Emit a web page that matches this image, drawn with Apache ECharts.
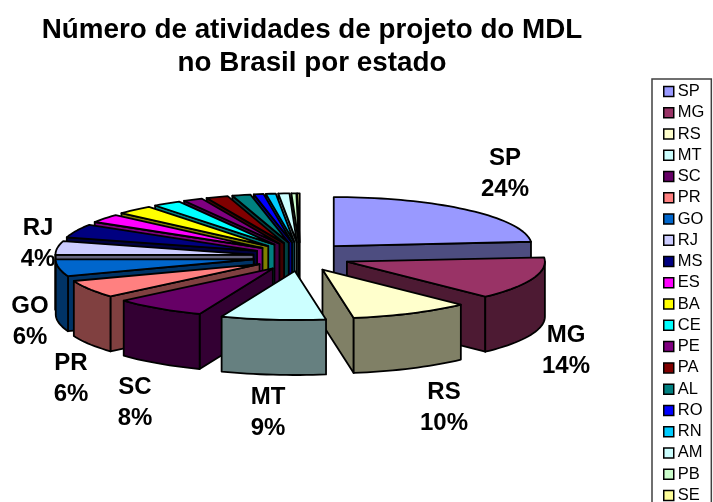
<!DOCTYPE html>
<html><head><meta charset="utf-8">
<style>html,body{margin:0;padding:0;background:#fff;overflow:hidden}#c{width:713px;height:502px}</style>
<script src="https://cdn.jsdelivr.net/npm/echarts@6/dist/echarts.min.js"></script></head>
<body><div id="c"></div>
<script>
const states = ['SP','MG','RS','MT','SC','PR','GO','RJ','MS','ES','BA','CE','PE','PA','AL','RO','RN','AM','PB','SE'];
const shares = [23.6,14.1,9.8,8.55,7.55,5.8,5.6,4.49,4.45,2.8,3.0,2.3,1.6,1.8,1.5,0.8,0.8,0.9,0.4,0.2];
const colors = ['#9999FF','#993366','#FFFFCC','#CCFFFF','#660066','#FF8080','#0066CC','#CCCCFF','#000080','#FF00FF','#FFFF00','#00FFFF','#800080','#800000','#008080','#0000FF','#00CCFF','#CCFFFF','#CCFFCC','#FFFF99'];
const titleLines = ['Número de atividades de projeto do MDL','no Brasil por estado'];

// layout only
const PIE = {cx:300, cy:256.7, exRight:50, exLeft:47, ey:14.4, rx:198, ry:49, depth:55};
const labelAt = {SP:[505,174],MG:[566,351],RS:[444,408],MT:[268,413],SC:[135,403],PR:[71,379],GO:[30,322],RJ:[38,244]};
const FONT = '"Liberation Sans", Arial, sans-serif';

const total = shares.reduce((a,b)=>a+b,0);
let run = 0;
const slices = states.map((name,i)=>{
  const s = {name, color:colors[i], value:shares[i], start:run/total*360, end:(run+shares[i])/total*360};
  run += shares[i]; s.mid=(s.start+s.end)/2; return s;
});
const rad = d=>d*Math.PI/180;
function dark(hex){const n=parseInt(hex.slice(1),16);const c=[n>>16,(n>>8)&255,n&255].map(v=>Math.round(v*0.5));return `rgb(${c.join(',')})`;}
const lineStyle = c=>({fill:c,stroke:'#000',lineWidth:1.8,lineJoin:'round'});
function poly(points,c){return {type:'polygon',shape:{points},style:lineStyle(c)};}

function renderSlice(params,api){
  const a0=api.value(0), a1=api.value(1);
  const s=slices[api.value(2)];
  const m=rad((a0+a1)/2), sm=Math.sin(m);
  const ax=PIE.cx+(sm>0?PIE.exRight:PIE.exLeft)*sm, ay=PIE.cy-PIE.ey*Math.cos(m);
  const P=t=>[ax+PIE.rx*Math.sin(rad(t)), ay-PIE.ry*Math.cos(rad(t))];
  const D=p=>[p[0],p[1]+PIE.depth];
  const rim=[]; const n=Math.max(2,Math.ceil((a1-a0)/2));
  for(let i=0;i<=n;i++) rim.push(a0+(a1-a0)*i/n);
  const wall=dark(s.color), kids=[], apex=[ax,ay];
  if(Math.sin(rad(a0))<0) kids.push(poly([apex,P(a0),D(P(a0)),D(apex)],wall));
  if(Math.sin(rad(a1))>0) kids.push(poly([apex,P(a1),D(P(a1)),D(apex)],wall));
  const lo=Math.max(a0,90), hi=Math.min(a1,270);
  if(hi>lo){
    const pts=[]; const k=Math.max(2,Math.ceil((hi-lo)/2));
    for(let i=0;i<=k;i++) pts.push(P(lo+(hi-lo)*i/k));
    for(let i=k;i>=0;i--) pts.push(D(P(lo+(hi-lo)*i/k)));
    kids.push(poly(pts,wall));
  }
  kids.push(poly([apex].concat(rim.map(P)),s.color));
  return {type:'group',children:kids};
}

const drawOrder = slices.map((s,i)=>i).sort((a,b)=>Math.cos(rad(slices[b].mid))-Math.cos(rad(slices[a].mid)));
const series = drawOrder.map(i=>({
  type:'custom', name:slices[i].name, coordinateSystem:'none', silent:true, animation:false,
  itemStyle:{color:slices[i].color,borderColor:'#000',borderWidth:1.5},
  renderItem:renderSlice, data:[[slices[i].start,slices[i].end,i]]
}));
series.push({
  type:'custom', name:'rotulos', coordinateSystem:'none', silent:true, animation:false, z:5,
  data:slices.map((s,i)=>[i]).filter(r=>labelAt[slices[r[0]].name]),
  renderItem(params,api){
    const s=slices[api.value(0)], p=labelAt[s.name];
    return {type:'text',x:p[0],y:p[1],style:{text:s.name+'\n'+Math.round(s.value/total*100)+'%',
      font:'bold 24px '+FONT,fill:'#000',align:'center',verticalAlign:'middle',lineHeight:31}};
  }
});

const chart = echarts.init(document.getElementById('c'),null,{renderer:'canvas'});
chart.setOption({
  animation:false, backgroundColor:'#fff',
  title:{text:titleLines.join('\n'),left:307,top:8.5,textAlign:'center',
    textStyle:{fontFamily:FONT,fontWeight:'bold',fontSize:27.8,lineHeight:33.5,color:'#000'}},
  legend:{data:states,orient:'vertical',left:652,top:79,height:470,selectedMode:false,icon:'rect',
    itemWidth:10,itemHeight:10,itemGap:4.26,align:'left',
    padding:[4,7,14,11],borderColor:'#404040',borderWidth:1.5,itemStyle:{borderColor:'#000',borderWidth:1.5},
    textStyle:{fontFamily:FONT,fontSize:16.5,color:'#000',padding:[0,0,0,-1]}},
  series
});
</script></body></html>
